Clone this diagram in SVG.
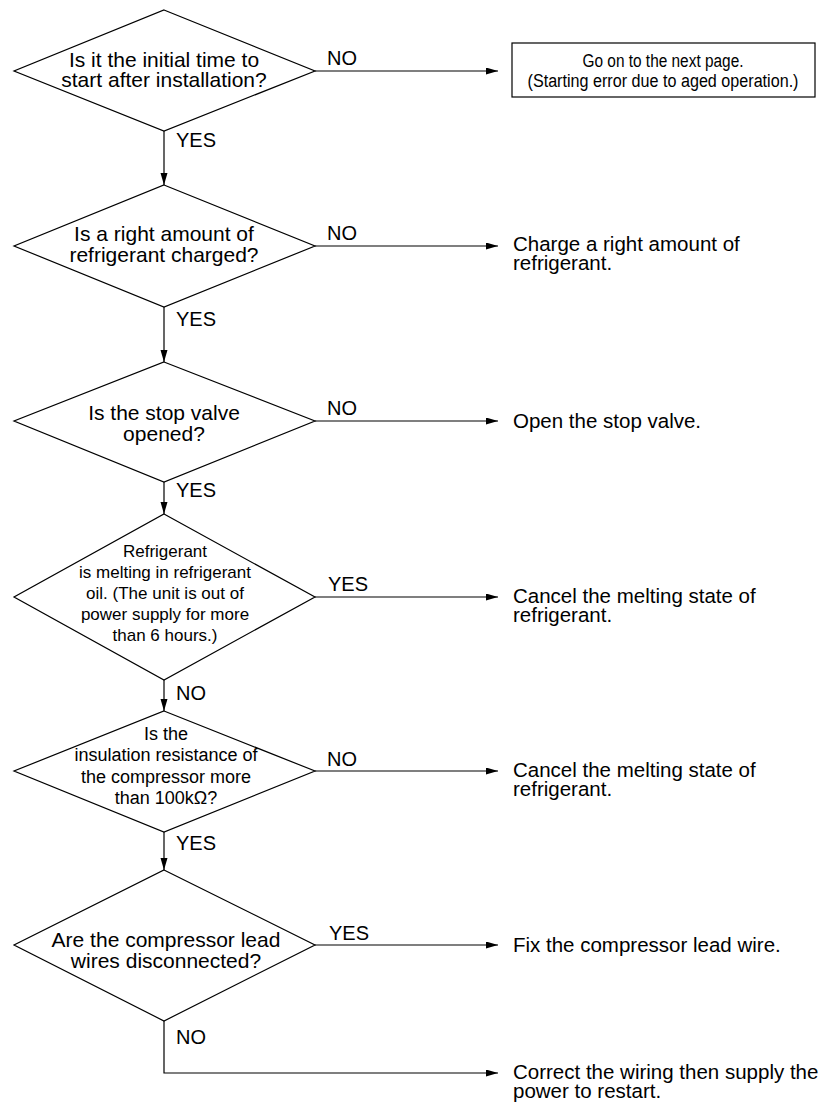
<svg xmlns="http://www.w3.org/2000/svg" width="834" height="1102" viewBox="0 0 834 1102">
  <style>
    .shape { fill: #ffffff; stroke: #000000; stroke-width: 1.2; }
    .conn { fill: none; stroke: #000000; stroke-width: 1.2; }
    text { font-family: "Liberation Sans", Arial, sans-serif; fill: #000000; }
    .q { font-size: 21px; text-anchor: middle; }
    .qs { font-size: 17px; text-anchor: middle; }
    .qm { font-size: 18px; text-anchor: middle; }
    .lbl { font-size: 20px; }
    .act { font-size: 20.5px; }
    .box { font-size: 18px; text-anchor: middle; }
  </style>
  <defs>
    <marker id="arr" markerUnits="userSpaceOnUse" markerWidth="12" markerHeight="8" refX="12" refY="3.5" orient="auto">
      <path d="M0,0 L12,3.5 L0,7 z" fill="#000000"/>
    </marker>
  </defs>
  <rect x="0" y="0" width="834" height="1102" fill="#ffffff"/>

  <g id="connectors">
    <line class="conn" x1="164" y1="131" x2="164" y2="185" marker-end="url(#arr)"/>
    <line class="conn" x1="164" y1="307" x2="164" y2="362" marker-end="url(#arr)"/>
    <line class="conn" x1="164" y1="482" x2="164" y2="514" marker-end="url(#arr)"/>
    <line class="conn" x1="164" y1="680" x2="164" y2="711" marker-end="url(#arr)"/>
    <line class="conn" x1="164" y1="832" x2="164" y2="870" marker-end="url(#arr)"/>
    <line class="conn" x1="315" y1="71" x2="498" y2="71" marker-end="url(#arr)"/>
    <line class="conn" x1="315" y1="246" x2="498" y2="246" marker-end="url(#arr)"/>
    <line class="conn" x1="315" y1="421" x2="498" y2="421" marker-end="url(#arr)"/>
    <line class="conn" x1="315" y1="597" x2="498" y2="597" marker-end="url(#arr)"/>
    <line class="conn" x1="315" y1="771" x2="498" y2="771" marker-end="url(#arr)"/>
    <line class="conn" x1="315" y1="945" x2="498" y2="945" marker-end="url(#arr)"/>
    <polyline class="conn" points="164,1021 164,1073 498,1073" marker-end="url(#arr)"/>
    <text class="lbl" x="176" y="147">YES</text>
    <text class="lbl" x="176" y="326">YES</text>
    <text class="lbl" x="176" y="497">YES</text>
    <text class="lbl" x="176" y="700">NO</text>
    <text class="lbl" x="176" y="850">YES</text>
    <text class="lbl" x="176" y="1044">NO</text>
    <text class="lbl" x="327" y="65">NO</text>
    <text class="lbl" x="327" y="240">NO</text>
    <text class="lbl" x="327" y="415">NO</text>
    <text class="lbl" x="328" y="591">YES</text>
    <text class="lbl" x="327" y="766">NO</text>
    <text class="lbl" x="329" y="940">YES</text>
  </g>

  <g id="d1">
    <polygon class="shape" points="164,10 315,71 164,131 14,71"/>
    <text class="q" x="164" y="67">Is it the initial time to</text>
    <text class="q" x="164" y="87">start after installation?</text>
  </g>
  <g id="next-page">
    <rect class="shape" x="512" y="43" width="303" height="54"/>
    <text class="box" x="663" y="67" textLength="161" lengthAdjust="spacingAndGlyphs">Go on to the next page.</text>
    <text class="box" x="663" y="87" textLength="271" lengthAdjust="spacingAndGlyphs">(Starting error due to aged operation.)</text>
  </g>

  <g id="d2">
    <polygon class="shape" points="164,185 315,246 164,307 14,246"/>
    <text class="q" x="164" y="241">Is a right amount of</text>
    <text class="q" x="164" y="262">refrigerant charged?</text>
  </g>
  <g id="a2">
    <text class="act" x="513" y="251">Charge a right amount of</text>
    <text class="act" x="513" y="270">refrigerant.</text>
  </g>

  <g id="d3">
    <polygon class="shape" points="164,362 315,421 164,482 14,421"/>
    <text class="q" x="164" y="420">Is the stop valve</text>
    <text class="q" x="164" y="441">opened?</text>
  </g>
  <g id="a3">
    <text class="act" x="513" y="428">Open the stop valve.</text>
  </g>

  <g id="d4">
    <polygon class="shape" points="164,514 315,597 164,680 14,597"/>
    <text class="qs" x="165" y="557">Refrigerant</text>
    <text class="qs" x="165" y="578">is melting in refrigerant</text>
    <text class="qs" x="165" y="599">oil. (The unit is out of</text>
    <text class="qs" x="165" y="620">power supply for more</text>
    <text class="qs" x="165" y="641">than 6 hours.)</text>
  </g>
  <g id="a4">
    <text class="act" x="513" y="603">Cancel the melting state of</text>
    <text class="act" x="513" y="622">refrigerant.</text>
  </g>

  <g id="d5">
    <polygon class="shape" points="164,711 315,771 164,832 14,771"/>
    <text class="qm" x="166" y="740">Is the</text>
    <text class="qm" x="166" y="761">insulation resistance of</text>
    <text class="qm" x="166" y="783">the compressor more</text>
    <text class="qm" x="166" y="804">than 100kΩ?</text>
  </g>
  <g id="a5">
    <text class="act" x="513" y="777">Cancel the melting state of</text>
    <text class="act" x="513" y="796">refrigerant.</text>
  </g>

  <g id="d6">
    <polygon class="shape" points="164,870 315,945 164,1021 14,945"/>
    <text class="q" x="166" y="947">Are the compressor lead</text>
    <text class="q" x="166" y="968">wires disconnected?</text>
  </g>
  <g id="a6">
    <text class="act" x="513" y="952">Fix the compressor lead wire.</text>
  </g>
  <g id="a7">
    <text class="act" x="513" y="1079">Correct the wiring then supply the</text>
    <text class="act" x="513" y="1098">power to restart.</text>
  </g>
</svg>
